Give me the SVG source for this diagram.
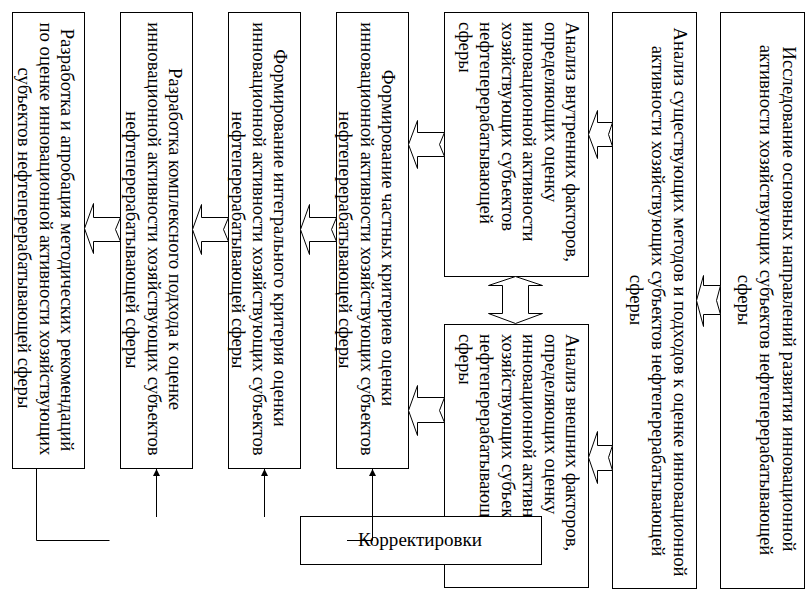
<svg xmlns="http://www.w3.org/2000/svg" width="806" height="601" viewBox="0 0 806 601">
<defs>
<style>
.box{fill:#fff;stroke:#000;stroke-width:1}
.ar{fill:#fff;stroke:#000;stroke-width:1;stroke-linejoin:miter}
.ln{fill:none;stroke:#000;stroke-width:1}
text{font-family:"Liberation Serif","Times New Roman",serif;font-size:18.67px;fill:#000}
.c{text-anchor:middle}
</style>
<marker id="ah" viewBox="0 0 10 10" refX="10" refY="5" markerWidth="7" markerHeight="7" markerUnits="userSpaceOnUse" orient="auto">
<path d="M0,0 L10,5 L0,10 z" fill="#000"/>
</marker>
</defs>
<rect width="806" height="601" fill="#fff"/>

<g id="nodeA">
<rect class="box" x="12.5" y="12.5" width="72" height="456"/>
<text class="c" transform="translate(61,240) rotate(90)">Разработка и апробация методических рекомендаций</text>
<text class="c" transform="translate(39.5,239) rotate(90)">по оценке инновационной активности хозяйствующих</text>
<text class="c" transform="translate(18,238) rotate(90)">субъектов нефтеперерабатывающей сферы</text>
</g>

<g id="nodeB">
<rect class="box" x="120.5" y="12.5" width="72" height="456"/>
<text class="c" transform="translate(169,239) rotate(90)">Разработка комплексного подхода к оценке</text>
<text class="c" transform="translate(147.5,239) rotate(90)">инновационной активности хозяйствующих субъектов</text>
<text class="c" transform="translate(126,240) rotate(90)">нефтеперерабатывающей сферы</text>
</g>

<g id="nodeC">
<rect class="box" x="228.5" y="12.5" width="72" height="456"/>
<text class="c" transform="translate(274,238) rotate(90)">Формирование интегрального критерия оценки</text>
<text class="c" transform="translate(252.5,239) rotate(90)">инновационной активности хозяйствующих субъектов</text>
<text class="c" transform="translate(232,240) rotate(90)">нефтеперерабатывающей сферы</text>
</g>

<g id="nodeD">
<rect class="box" x="336.5" y="12.5" width="72" height="456"/>
<text class="c" transform="translate(382,238) rotate(90)">Формирование частных критериев оценки</text>
<text class="c" transform="translate(360.5,239) rotate(90)">инновационной активности хозяйствующих субъектов</text>
<text class="c" transform="translate(339,240) rotate(90)">нефтеперерабатывающей сферы</text>
</g>

<g id="nodeE">
<rect class="box" x="444.5" y="12.5" width="144" height="264"/>
<text transform="translate(566,22) rotate(90)">Анализ внутренних факторов,</text>
<text transform="translate(544.5,22) rotate(90)">определяющих оценку</text>
<text transform="translate(523,22) rotate(90)">инновационной активности</text>
<text transform="translate(501.5,22) rotate(90)">хозяйствующих субъектов</text>
<text transform="translate(480,22) rotate(90)">нефтеперерабатывающей</text>
<text transform="translate(458.5,22) rotate(90)">сферы</text>
</g>

<g id="nodeH">
<rect class="box" x="444.5" y="324.5" width="144" height="263"/>
<text transform="translate(566,334) rotate(90)">Анализ внешних факторов,</text>
<text transform="translate(544.5,334) rotate(90)">определяющих оценку</text>
<text transform="translate(523,334) rotate(90)">инновационной активности</text>
<text transform="translate(501.5,334) rotate(90)">хозяйствующих субъектов</text>
<text transform="translate(480,334) rotate(90)">нефтеперерабатывающей</text>
<text transform="translate(458.5,334) rotate(90)">сферы</text>
</g>

<g id="nodeF">
<rect class="box" x="612.5" y="12.5" width="84" height="576"/>
<text class="c" transform="translate(674,302) rotate(90)">Анализ существующих методов и подходов к оценке инновационной</text>
<text class="c" transform="translate(652,301) rotate(90)">активности хозяйствующих субъектов нефтеперерабатывающей</text>
<text class="c" transform="translate(630,300) rotate(90)">сферы</text>
</g>

<g id="nodeG">
<rect class="box" x="720.5" y="12.5" width="84" height="576"/>
<text class="c" transform="translate(783,299) rotate(90)">Исследование основных направлений развития инновационной</text>
<text class="c" transform="translate(760,300) rotate(90)">активности хозяйствующих субъектов нефтеперерабатывающей</text>
<text class="c" transform="translate(738,300) rotate(90)">сферы</text>
</g>

<g id="connectors">
<polygon class="ar" points="84.5,228.5 93.5,203.5 93.5,217.5 120.5,217.5 115.5,229.5 120.5,241.5 93.5,241.5 93.5,253.5"/>
<polygon class="ar" points="192.5,229.5 201.5,204.5 201.5,217.5 228.5,217.5 223.5,229.5 228.5,241.5 201.5,241.5 201.5,254.5"/>
<polygon class="ar" points="300.5,229.5 309.5,204.5 309.5,217.5 336.5,217.5 331.5,229.5 336.5,241.5 309.5,241.5 309.5,254.5"/>
<polygon class="ar" points="408.5,144.5 417.5,120.5 417.5,132.5 444.5,132.5 439.5,144.5 444.5,156.5 417.5,156.5 417.5,168.5"/>
<polygon class="ar" points="408.5,410.5 417.5,385.5 417.5,397.5 444.5,397.5 439.5,410.5 444.5,422.5 417.5,422.5 417.5,435.5"/>
<polygon class="ar" points="588.5,134.5 597.5,110.5 597.5,122.5 612.5,122.5 608.5,134.5 612.5,146.5 597.5,146.5 597.5,158.5"/>
<polygon class="ar" points="588.5,457.5 597.5,431.5 597.5,445.5 612.5,445.5 608.5,457.5 612.5,470.5 597.5,470.5 597.5,483.5"/>
<polygon class="ar" points="696.5,300.5 703.5,275.5 703.5,285.5 720.5,285.5 716.5,300.5 720.5,314.5 703.5,314.5 703.5,326.5"/>
<polygon class="ar" points="515.5,276.5 542.5,285.5 528.5,285.5 528.5,313.5 542.5,313.5 515.5,323.5 488.5,313.5 502.5,313.5 502.5,285.5 488.5,285.5"/>
<polyline class="ln" points="36.5,468.5 36.5,540.5 109.5,540.5"/>
<line class="ln" x1="156.5" y1="517" x2="156.5" y2="469" marker-end="url(#ah)"/>
<line class="ln" x1="264.5" y1="517" x2="264.5" y2="469" marker-end="url(#ah)"/>
</g>

<g id="nodeK">
<rect class="box" x="300.5" y="516.5" width="241" height="48"/>
<text x="358" y="546" font-size="18.67px" textLength="124" lengthAdjust="spacingAndGlyphs">Корректировки</text>
</g>

<g id="connectors2">
<line class="ln" x1="347" y1="540.5" x2="372.5" y2="540.5"/>
<line class="ln" x1="372.5" y1="540.5" x2="372.5" y2="469" marker-end="url(#ah)"/>
</g>
</svg>
